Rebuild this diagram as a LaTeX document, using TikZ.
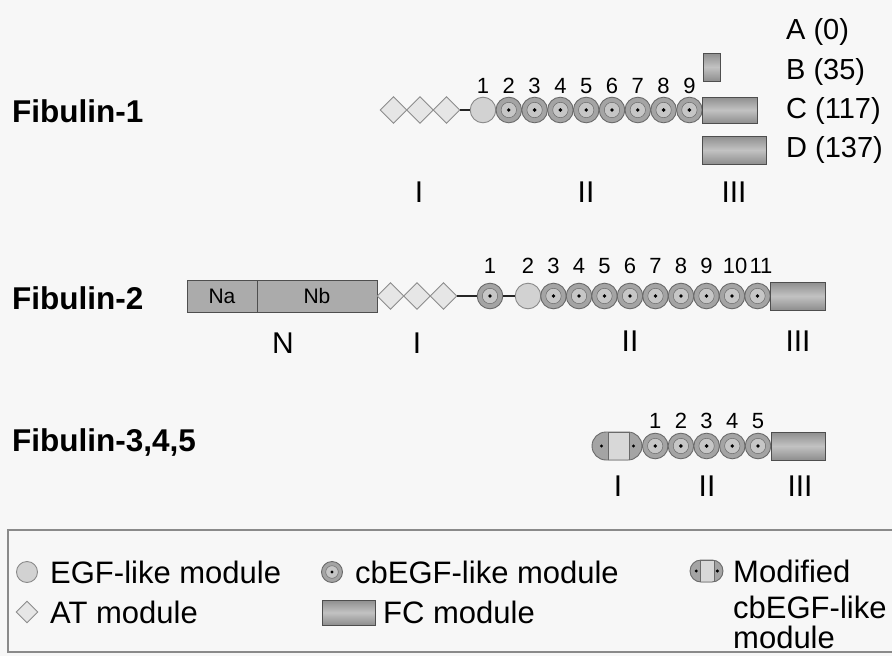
\documentclass[tikz,border=0pt]{standalone}
\usepackage{fontspec}
\setmainfont{Liberation Sans}
\usetikzlibrary{shapes.geometric,calc}
\definecolor{bgcol}{HTML}{F7F7F7}
\definecolor{egffill}{HTML}{D2D2D2}
\definecolor{egfdraw}{HTML}{8A8A8A}
\definecolor{cbfill}{HTML}{A4A4A4}
\definecolor{cbinner}{HTML}{C6C6C6}
\definecolor{cbdraw}{HTML}{6A6A6A}
\definecolor{atfill}{HTML}{E6E6E6}
\definecolor{atdraw}{HTML}{8C8C8C}
\definecolor{fcdark}{HTML}{8E8E8E}
\definecolor{fclight}{HTML}{C2C2C2}
\definecolor{fcdraw}{HTML}{4E4E4E}
\definecolor{nfill}{HTML}{ABABAB}
\definecolor{modlight}{HTML}{D8D8D8}
\definecolor{legline}{HTML}{8A8A8A}
\begin{document}
\begin{tikzpicture}[x=1pt,y=-1pt,
  egf/.style={circle,minimum size=#1,inner sep=0pt,fill=egffill,draw=egfdraw,line width=0.9pt},
  egf/.default=25.6pt,
  cbegf/.style={circle,minimum size=#1,inner sep=0pt,fill=cbfill,draw=cbdraw,line width=0.9pt,
    path picture={\draw[draw=cbdraw,fill=cbinner,line width=0.5pt] (path picture bounding box.center) circle (0.3*#1);
      \fill[black] (path picture bounding box.center) circle (0.075*#1);}},
  cbegf/.default=25.6pt,
  atmod/.style={diamond,inner sep=0pt,minimum width=#1,minimum height=#1,fill=atfill,draw=atdraw,line width=0.9pt},
  atmod/.default=27pt,
  fcmod/.style 2 args={rectangle,inner sep=0pt,minimum width=#1,minimum height=#2,draw=fcdraw,line width=0.9pt,
    top color=fcdark,bottom color=fcdark,middle color=fclight},
  nbox/.style={rectangle,inner sep=0pt,minimum height=32pt,fill=nfill,draw=fcdraw,line width=0.9pt,
    font=\fontsize{21}{25}\selectfont},
  modmod/.style n args={3}{rectangle,inner sep=0pt,minimum width=#1,minimum height=#2,rounded corners=#3,
    fill=cbfill,draw=cbdraw,line width=0.9pt,
    path picture={
      \fill[sharp corners,modlight,draw=cbdraw,line width=0.5pt]
        ($(path picture bounding box.south west)!0.32!(path picture bounding box.south east)$) rectangle
        ($(path picture bounding box.north west)!0.74!(path picture bounding box.north east)$);
      \fill[black] ($(path picture bounding box.west)!0.19!(path picture bounding box.east)$) circle (1.7pt);
      \fill[black] ($(path picture bounding box.west)!0.83!(path picture bounding box.east)$) circle (1.7pt);}},
  link/.style={line width=1.6pt,draw=black!85},
  title/.style={font=\fontsize{31.5}{38}\selectfont\bfseries,anchor=base west,inner sep=0pt},
  num/.style={font=\fontsize{22}{26}\selectfont,anchor=base,inner sep=0pt},
  roman/.style={font=\fontsize{30}{36}\selectfont,inner sep=0pt},
  iso/.style={font=\fontsize{29}{35}\selectfont,anchor=west,inner sep=0pt},
  legtext/.style={font=\fontsize{31}{37}\selectfont,anchor=west,inner sep=0pt},
  legbox/.style={draw=legline,line width=1.5pt}
]
\fill[bgcol] (0,0) rectangle (892,656);
\useasboundingbox (0,0) rectangle (892,656);

% ---------------- Fibulin-1
\node[title] (t1) at (12,122) {Fibulin-1};
\foreach \i/\x in {1/393.5,2/420,3/446.5} \node[atmod] (f1d\i) at (\x,110) {};
\node[egf] (f1c1) at (483,110) {};
\foreach \i in {2,...,9} \node[cbegf] (f1c\i) at ({483+(\i-1)*25.8},110) {};
\foreach \i in {1,...,9} \node[num] (f1n\i) at ({483+(\i-1)*25.8},93) {\i};
\draw[link] (f1d3) -- (f1c1);
\node[fcmod={17pt}{28pt}] (f1fcB) at (711.5,67) {};
\node[fcmod={55pt}{26pt}] (f1fcC) at (729.7,110) {};
\node[fcmod={64pt}{28pt}] (f1fcD) at (734.2,150) {};
\node[iso] (f1lA) at (786,32) {A (0)};
\node[iso] (f1lB) at (786,72) {B (35)};
\node[iso] (f1lC) at (786,111) {C (117)};
\node[iso] (f1lD) at (786,150) {D (137)};
\node[roman] (f1r1) at (419,192) {I};
\node[roman] (f1r2) at (586,192) {II};
\node[roman] (f1r3) at (734,192) {III};

% ---------------- Fibulin-2
\node[title] (t2) at (12,309) {Fibulin-2};
\node[nbox,minimum width=70pt] (f2na) at (222,296) {Na};
\node[nbox,minimum width=120pt] (f2nb) at (317,296) {Nb};
\foreach \i/\x in {1/390.5,2/417,3/443.5} \node[atmod] (f2d\i) at (\x,296) {};
\node[cbegf] (f2c1) at (490,296) {};
\node[egf] (f2c2) at (528,296) {};
\foreach \i in {3,...,11} \node[cbegf] (f2c\i) at ({528+(\i-2)*25.5},296) {};
\node[num] (f2n1) at (490,273) {1};
\foreach \i in {2,...,9} \node[num] (f2n\i) at ({528+(\i-2)*25.5},273) {\i};
\node[num] (f2n10) at (735,273) {10};
\node[num] (f2n11) at (761,273) {11};
\draw[link] (f2d3) -- (f2c1);
\draw[link] (f2c1) -- (f2c2);
\node[fcmod={55pt}{28pt}] (f2fc) at (798,296) {};
\node[roman] (f2rN) at (283,343) {N};
\node[roman] (f2r1) at (417,343) {I};
\node[roman] (f2r2) at (630,341) {II};
\node[roman] (f2r3) at (798,341) {III};

% ---------------- Fibulin-3,4,5
\node[title] (t3) at (12,451) {Fibulin-3,4,5};
\node[modmod={50pt}{28pt}{14pt}] (f3m) at (617,446) {};
\foreach \i in {1,...,5} \node[cbegf] (f3c\i) at ({655.2+(\i-1)*25.7},446) {};
\foreach \i in {1,...,5} \node[num] (f3n\i) at ({655.2+(\i-1)*25.7},428) {\i};
\node[fcmod={54pt}{28pt}] (f3fc) at (798,446) {};
\node[roman] (f3r1) at (618,486) {I};
\node[roman] (f3r2) at (707,486) {II};
\node[roman] (f3r3) at (800,486) {III};

% ---------------- Legend
\draw[legbox] (895,530) -- (8,530) -- (8,652) -- (895,652);
\node[egf=21pt] (lgegf) at (27,572) {};
\node[legtext] (lgegft) at (50,572) {EGF-like module};
\node[cbegf=21pt] (lgcb) at (332,572) {};
\node[legtext] (lgcbt) at (355,572) {cbEGF-like module};
\node[modmod={33pt}{22pt}{11pt}] (lgmod) at (706.5,571) {};
\node[legtext] (lgmodt1) at (733,571) {Modified};
\node[legtext] (lgmodt2) at (733,607) {cbEGF-like};
\node[legtext] (lgmodt3) at (733,637) {module};
\node[atmod=22pt] (lgat) at (27,612) {};
\node[legtext] (lgatt) at (50,612) {AT module};
\node[fcmod={53pt}{25pt}] (lgfc) at (348.5,612.5) {};
\node[legtext] (lgfct) at (383,612) {FC module};
\end{tikzpicture}
\end{document}
